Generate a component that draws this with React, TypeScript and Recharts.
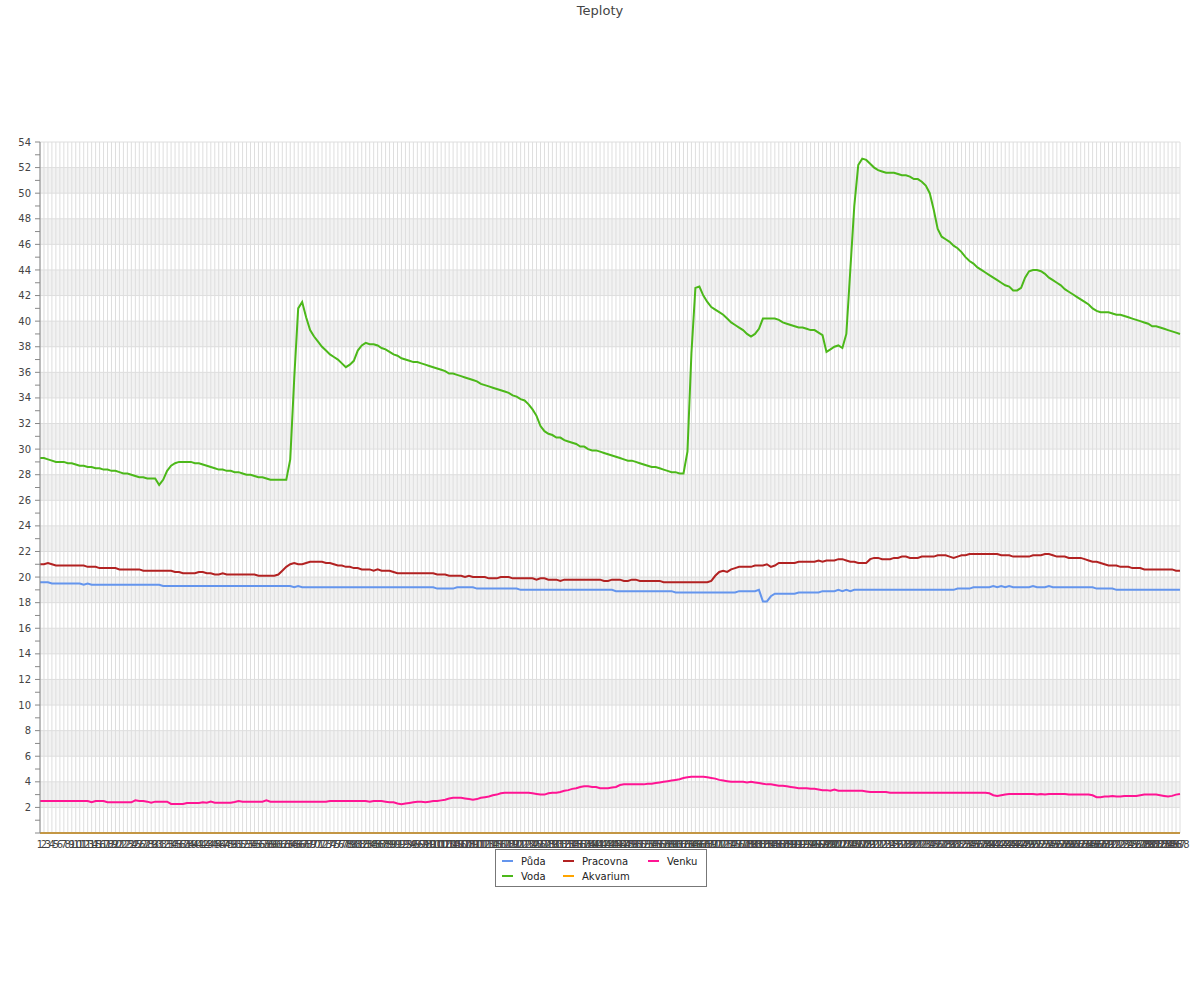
import { LineChart, Line, XAxis, YAxis, CartesianGrid } from "recharts";

// --- data (288 samples) ---
const labels: string[] = Array.from({ length: 288 }, (_, i) => String(i + 1));

const puda = [
  19.6, 19.6, 19.6, 19.5, 19.5, 19.5, 19.5, 19.5, 19.5, 19.5,
  19.5, 19.4, 19.5, 19.4, 19.4, 19.4, 19.4, 19.4, 19.4, 19.4,
  19.4, 19.4, 19.4, 19.4, 19.4, 19.4, 19.4, 19.4, 19.4, 19.4,
  19.4, 19.3, 19.3, 19.3, 19.3, 19.3, 19.3, 19.3, 19.3, 19.3,
  19.3, 19.3, 19.3, 19.3, 19.3, 19.3, 19.3, 19.3, 19.3, 19.3,
  19.3, 19.3, 19.3, 19.3, 19.3, 19.3, 19.3, 19.3, 19.3, 19.3,
  19.3, 19.3, 19.3, 19.3, 19.2, 19.3, 19.2, 19.2, 19.2, 19.2,
  19.2, 19.2, 19.2, 19.2, 19.2, 19.2, 19.2, 19.2, 19.2, 19.2,
  19.2, 19.2, 19.2, 19.2, 19.2, 19.2, 19.2, 19.2, 19.2, 19.2,
  19.2, 19.2, 19.2, 19.2, 19.2, 19.2, 19.2, 19.2, 19.2, 19.2,
  19.1, 19.1, 19.1, 19.1, 19.1, 19.2, 19.2, 19.2, 19.2, 19.2,
  19.1, 19.1, 19.1, 19.1, 19.1, 19.1, 19.1, 19.1, 19.1, 19.1,
  19.1, 19.0, 19.0, 19.0, 19.0, 19.0, 19.0, 19.0, 19.0, 19.0,
  19.0, 19.0, 19.0, 19.0, 19.0, 19.0, 19.0, 19.0, 19.0, 19.0,
  19.0, 19.0, 19.0, 19.0, 19.0, 18.9, 18.9, 18.9, 18.9, 18.9,
  18.9, 18.9, 18.9, 18.9, 18.9, 18.9, 18.9, 18.9, 18.9, 18.9,
  18.8, 18.8, 18.8, 18.8, 18.8, 18.8, 18.8, 18.8, 18.8, 18.8,
  18.8, 18.8, 18.8, 18.8, 18.8, 18.8, 18.9, 18.9, 18.9, 18.9,
  18.9, 19.0, 18.1, 18.1, 18.5, 18.7, 18.7, 18.7, 18.7, 18.7,
  18.7, 18.8, 18.8, 18.8, 18.8, 18.8, 18.8, 18.9, 18.9, 18.9,
  18.9, 19.0, 18.9, 19.0, 18.9, 19.0, 19.0, 19.0, 19.0, 19.0,
  19.0, 19.0, 19.0, 19.0, 19.0, 19.0, 19.0, 19.0, 19.0, 19.0,
  19.0, 19.0, 19.0, 19.0, 19.0, 19.0, 19.0, 19.0, 19.0, 19.0,
  19.0, 19.1, 19.1, 19.1, 19.1, 19.2, 19.2, 19.2, 19.2, 19.2,
  19.3, 19.2, 19.3, 19.2, 19.3, 19.2, 19.2, 19.2, 19.2, 19.2,
  19.3, 19.2, 19.2, 19.2, 19.3, 19.2, 19.2, 19.2, 19.2, 19.2,
  19.2, 19.2, 19.2, 19.2, 19.2, 19.2, 19.1, 19.1, 19.1, 19.1,
  19.1, 19.0, 19.0, 19.0, 19.0, 19.0, 19.0, 19.0, 19.0, 19.0,
  19.0, 19.0, 19.0, 19.0, 19.0, 19.0, 19.0, 19.0,
];

const voda = [
  29.3, 29.3, 29.2, 29.1, 29.0, 29.0, 29.0, 28.9, 28.9, 28.8,
  28.7, 28.7, 28.6, 28.6, 28.5, 28.5, 28.4, 28.4, 28.3, 28.3,
  28.2, 28.1, 28.1, 28.0, 27.9, 27.8, 27.8, 27.7, 27.7, 27.7,
  27.2, 27.6, 28.3, 28.7, 28.9, 29.0, 29.0, 29.0, 29.0, 28.9,
  28.9, 28.8, 28.7, 28.6, 28.5, 28.4, 28.4, 28.3, 28.3, 28.2,
  28.2, 28.1, 28.0, 28.0, 27.9, 27.8, 27.8, 27.7, 27.6, 27.6,
  27.6, 27.6, 27.6, 29.2, 35.5, 41.0, 41.5, 40.3, 39.3, 38.8,
  38.4, 38.0, 37.7, 37.4, 37.2, 37.0, 36.7, 36.4, 36.6, 36.9,
  37.7, 38.1, 38.3, 38.2, 38.2, 38.1, 37.9, 37.8, 37.6, 37.4,
  37.3, 37.1, 37.0, 36.9, 36.8, 36.8, 36.7, 36.6, 36.5, 36.4,
  36.3, 36.2, 36.1, 35.9, 35.9, 35.8, 35.7, 35.6, 35.5, 35.4,
  35.3, 35.1, 35.0, 34.9, 34.8, 34.7, 34.6, 34.5, 34.4, 34.2,
  34.1, 33.9, 33.8, 33.5, 33.1, 32.6, 31.8, 31.4, 31.2, 31.1,
  30.9, 30.9, 30.7, 30.6, 30.5, 30.4, 30.2, 30.2, 30.0, 29.9,
  29.9, 29.8, 29.7, 29.6, 29.5, 29.4, 29.3, 29.2, 29.1, 29.1,
  29.0, 28.9, 28.8, 28.7, 28.6, 28.6, 28.5, 28.4, 28.3, 28.2,
  28.2, 28.1, 28.1, 29.8, 37.5, 42.6, 42.7, 42.0, 41.5, 41.1,
  40.9, 40.7, 40.5, 40.2, 39.9, 39.7, 39.5, 39.3, 39.0, 38.8,
  39.0, 39.4, 40.2, 40.2, 40.2, 40.2, 40.1, 39.9, 39.8, 39.7,
  39.6, 39.5, 39.5, 39.4, 39.3, 39.3, 39.1, 38.9, 37.6, 37.8,
  38.0, 38.1, 37.9, 39.0, 44.0, 49.0, 52.2, 52.7, 52.6, 52.3,
  52.0, 51.8, 51.7, 51.6, 51.6, 51.6, 51.5, 51.4, 51.4, 51.3,
  51.1, 51.1, 50.9, 50.6, 50.0, 48.7, 47.2, 46.6, 46.4, 46.2,
  45.9, 45.7, 45.4, 45.0, 44.7, 44.5, 44.2, 44.0, 43.8, 43.6,
  43.4, 43.2, 43.0, 42.8, 42.7, 42.4, 42.4, 42.6, 43.4, 43.9,
  44.0, 44.0, 43.9, 43.7, 43.4, 43.2, 43.0, 42.8, 42.5, 42.3,
  42.1, 41.9, 41.7, 41.5, 41.3, 41.0, 40.8, 40.7, 40.7, 40.7,
  40.6, 40.5, 40.5, 40.4, 40.3, 40.2, 40.1, 40.0, 39.9, 39.8,
  39.6, 39.6, 39.5, 39.4, 39.3, 39.2, 39.1, 39.0,
];

const pracovna = [
  21.0, 21.0, 21.1, 21.0, 20.9, 20.9, 20.9, 20.9, 20.9, 20.9,
  20.9, 20.9, 20.8, 20.8, 20.8, 20.7, 20.7, 20.7, 20.7, 20.7,
  20.6, 20.6, 20.6, 20.6, 20.6, 20.6, 20.5, 20.5, 20.5, 20.5,
  20.5, 20.5, 20.5, 20.5, 20.4, 20.4, 20.3, 20.3, 20.3, 20.3,
  20.4, 20.4, 20.3, 20.3, 20.2, 20.2, 20.3, 20.2, 20.2, 20.2,
  20.2, 20.2, 20.2, 20.2, 20.2, 20.1, 20.1, 20.1, 20.1, 20.1,
  20.2, 20.5, 20.8, 21.0, 21.1, 21.0, 21.0, 21.1, 21.2, 21.2,
  21.2, 21.2, 21.1, 21.1, 21.0, 20.9, 20.9, 20.8, 20.8, 20.7,
  20.7, 20.6, 20.6, 20.6, 20.5, 20.6, 20.5, 20.5, 20.5, 20.4,
  20.3, 20.3, 20.3, 20.3, 20.3, 20.3, 20.3, 20.3, 20.3, 20.3,
  20.2, 20.2, 20.2, 20.1, 20.1, 20.1, 20.1, 20.0, 20.1, 20.0,
  20.0, 20.0, 20.0, 19.9, 19.9, 19.9, 20.0, 20.0, 20.0, 19.9,
  19.9, 19.9, 19.9, 19.9, 19.9, 19.8, 19.9, 19.9, 19.8, 19.8,
  19.8, 19.7, 19.8, 19.8, 19.8, 19.8, 19.8, 19.8, 19.8, 19.8,
  19.8, 19.8, 19.7, 19.7, 19.8, 19.8, 19.8, 19.7, 19.7, 19.8,
  19.8, 19.7, 19.7, 19.7, 19.7, 19.7, 19.7, 19.6, 19.6, 19.6,
  19.6, 19.6, 19.6, 19.6, 19.6, 19.6, 19.6, 19.6, 19.6, 19.7,
  20.1, 20.4, 20.5, 20.4, 20.6, 20.7, 20.8, 20.8, 20.8, 20.8,
  20.9, 20.9, 20.9, 21.0, 20.8, 20.9, 21.1, 21.1, 21.1, 21.1,
  21.1, 21.2, 21.2, 21.2, 21.2, 21.2, 21.3, 21.2, 21.3, 21.3,
  21.3, 21.4, 21.4, 21.3, 21.2, 21.2, 21.1, 21.1, 21.1, 21.4,
  21.5, 21.5, 21.4, 21.4, 21.4, 21.5, 21.5, 21.6, 21.6, 21.5,
  21.5, 21.5, 21.6, 21.6, 21.6, 21.6, 21.7, 21.7, 21.7, 21.6,
  21.5, 21.6, 21.7, 21.7, 21.8, 21.8, 21.8, 21.8, 21.8, 21.8,
  21.8, 21.8, 21.7, 21.7, 21.7, 21.6, 21.6, 21.6, 21.6, 21.6,
  21.7, 21.7, 21.7, 21.8, 21.8, 21.7, 21.6, 21.6, 21.6, 21.5,
  21.5, 21.5, 21.5, 21.4, 21.3, 21.2, 21.2, 21.1, 21.0, 20.9,
  20.9, 20.9, 20.8, 20.8, 20.8, 20.7, 20.7, 20.7, 20.6, 20.6,
  20.6, 20.6, 20.6, 20.6, 20.6, 20.6, 20.5, 20.5,
];

const akvarium = [
  0, 0, 0, 0, 0, 0, 0, 0, 0, 0, 0, 0, 0, 0, 0, 0, 0, 0, 0, 0,
  0, 0, 0, 0, 0, 0, 0, 0, 0, 0, 0, 0, 0, 0, 0, 0, 0, 0, 0, 0,
  0, 0, 0, 0, 0, 0, 0, 0, 0, 0, 0, 0, 0, 0, 0, 0, 0, 0, 0, 0,
  0, 0, 0, 0, 0, 0, 0, 0, 0, 0, 0, 0, 0, 0, 0, 0, 0, 0, 0, 0,
  0, 0, 0, 0, 0, 0, 0, 0, 0, 0, 0, 0, 0, 0, 0, 0, 0, 0, 0, 0,
  0, 0, 0, 0, 0, 0, 0, 0, 0, 0, 0, 0, 0, 0, 0, 0, 0, 0, 0, 0,
  0, 0, 0, 0, 0, 0, 0, 0, 0, 0, 0, 0, 0, 0, 0, 0, 0, 0, 0, 0,
  0, 0, 0, 0, 0, 0, 0, 0, 0, 0, 0, 0, 0, 0, 0, 0, 0, 0, 0, 0,
  0, 0, 0, 0, 0, 0, 0, 0, 0, 0, 0, 0, 0, 0, 0, 0, 0, 0, 0, 0,
  0, 0, 0, 0, 0, 0, 0, 0, 0, 0, 0, 0, 0, 0, 0, 0, 0, 0, 0, 0,
  0, 0, 0, 0, 0, 0, 0, 0, 0, 0, 0, 0, 0, 0, 0, 0, 0, 0, 0, 0,
  0, 0, 0, 0, 0, 0, 0, 0, 0, 0, 0, 0, 0, 0, 0, 0, 0, 0, 0, 0,
  0, 0, 0, 0, 0, 0, 0, 0, 0, 0, 0, 0, 0, 0, 0, 0, 0, 0, 0, 0,
  0, 0, 0, 0, 0, 0, 0, 0, 0, 0, 0, 0, 0, 0, 0, 0, 0, 0, 0, 0,
  0, 0, 0, 0, 0, 0, 0, 0,
];

const venku = [
  2.5, 2.5, 2.5, 2.5, 2.5, 2.5, 2.5, 2.5, 2.5, 2.5,
  2.5, 2.5, 2.5, 2.4, 2.5, 2.5, 2.5, 2.4, 2.4, 2.4,
  2.4, 2.4, 2.4, 2.4, 2.55, 2.5, 2.5, 2.45, 2.37, 2.45,
  2.45, 2.45, 2.45, 2.27, 2.27, 2.27, 2.27, 2.35, 2.35, 2.35,
  2.35, 2.4, 2.37, 2.45, 2.37, 2.37, 2.37, 2.37, 2.37, 2.43,
  2.5, 2.45, 2.45, 2.45, 2.45, 2.45, 2.45, 2.55, 2.45, 2.45,
  2.45, 2.45, 2.45, 2.45, 2.45, 2.45, 2.45, 2.45, 2.45, 2.45,
  2.45, 2.45, 2.45, 2.5, 2.5, 2.5, 2.5, 2.5, 2.5, 2.5,
  2.5, 2.5, 2.5, 2.45, 2.5, 2.5, 2.5, 2.45, 2.4, 2.4,
  2.3, 2.25, 2.3, 2.35, 2.4, 2.45, 2.45, 2.4, 2.45, 2.5,
  2.5, 2.55, 2.6, 2.7, 2.75, 2.75, 2.75, 2.7, 2.65, 2.6,
  2.65, 2.75, 2.8, 2.85, 2.95, 3.0, 3.1, 3.15, 3.15, 3.15,
  3.15, 3.15, 3.15, 3.15, 3.1, 3.05, 3.0, 3.0, 3.1, 3.15,
  3.15, 3.2, 3.3, 3.35, 3.45, 3.5, 3.6, 3.65, 3.65, 3.6,
  3.6, 3.5, 3.5, 3.5, 3.55, 3.6, 3.75, 3.8, 3.8, 3.8,
  3.8, 3.8, 3.8, 3.85, 3.85, 3.9, 3.95, 4.0, 4.05, 4.1,
  4.15, 4.2, 4.3, 4.35, 4.4, 4.4, 4.4, 4.4, 4.35, 4.3,
  4.25, 4.15, 4.1, 4.05, 4.0, 4.0, 4.0, 4.0, 3.95, 4.0,
  3.95, 3.9, 3.85, 3.8, 3.8, 3.75, 3.7, 3.7, 3.65, 3.6,
  3.55, 3.5, 3.5, 3.5, 3.45, 3.45, 3.4, 3.35, 3.35, 3.3,
  3.4, 3.3, 3.3, 3.3, 3.3, 3.3, 3.3, 3.3, 3.25, 3.2,
  3.2, 3.2, 3.2, 3.2, 3.15, 3.15, 3.15, 3.15, 3.15, 3.15,
  3.15, 3.15, 3.15, 3.15, 3.15, 3.15, 3.15, 3.15, 3.15, 3.15,
  3.15, 3.15, 3.15, 3.15, 3.15, 3.15, 3.15, 3.15, 3.15, 3.1,
  2.95, 2.9, 2.95, 3.0, 3.05, 3.05, 3.05, 3.05, 3.05, 3.05,
  3.05, 3.0, 3.05, 3.0, 3.05, 3.05, 3.05, 3.05, 3.05, 3.0,
  3.0, 3.0, 3.0, 3.0, 3.0, 2.95, 2.8, 2.8, 2.85, 2.85,
  2.9, 2.85, 2.85, 2.9, 2.9, 2.9, 2.9, 2.95, 3.0, 3.0,
  3.0, 3.0, 2.95, 2.9, 2.85, 2.9, 3.0, 3.05,
];

const yTicks = [
  0, 1, 2, 3, 4, 5, 6, 7, 8, 9, 10, 11, 12, 13, 14, 15, 16, 17, 18, 19,
  20, 21, 22, 23, 24, 25, 26, 27, 28, 29, 30, 31, 32, 33, 34, 35, 36, 37,
  38, 39, 40, 41, 42, 43, 44, 45, 46, 47, 48, 49, 50, 51, 52, 53, 54,
];
const gridValues = [
  0, 2, 4, 6, 8, 10, 12, 14, 16, 18, 20, 22, 24, 26, 28, 30, 32, 34, 36,
  38, 40, 42, 44, 46, 48, 50, 52, 54,
];

const series = [
  { key: "puda", name: "Půda", color: "#6495ED" },
  { key: "voda", name: "Voda", color: "#4CB81A" },
  { key: "pracovna", name: "Pracovna", color: "#B22222" },
  { key: "venku", name: "Venku", color: "#FF1493" },
  { key: "akvarium", name: "Akvarium", color: "#FFA500" },
];

const data = labels.map((name, i) => ({
  name,
  puda: puda[i],
  voda: voda[i],
  pracovna: pracovna[i],
  akvarium: akvarium[i],
  venku: venku[i],
}));

const font = "'DejaVu Sans', sans-serif";

// legend layout like the original: 3 columns, 2 rows
const legendSlots: Record<string, { left: number; row: number }> = {
  puda: { left: 6, row: 0 },
  pracovna: { left: 67, row: 0 },
  venku: { left: 152, row: 0 },
  voda: { left: 6, row: 1 },
  akvarium: { left: 67, row: 1 },
};

function LegendBox() {
  return (
    <div
      style={{
        position: "absolute",
        left: 495,
        top: 849,
        width: 210,
        height: 36,
        border: "1px solid #777",
        background: "#fff",
        fontFamily: font,
        fontSize: 10,
        color: "#222",
      }}
    >
      {series.map((s) => {
        const slot = legendSlots[s.key];
        const top = slot.row === 0 ? 4 : 19;
        return (
          <div
            key={s.key}
            style={{ position: "absolute", left: slot.left, top, height: 14, display: "flex", alignItems: "center" }}
          >
            <span style={{ display: "inline-block", width: 11, height: 2, background: s.color, marginRight: 8 }} />
            <span>{s.name}</span>
          </div>
        );
      })}
    </div>
  );
}

export default function App() {
  return (
    <div style={{ position: "absolute", left: 0, top: 0, width: 1200, height: 1000, background: "#fff" }}>
      <div
        style={{
          position: "absolute",
          top: 3,
          left: 0,
          width: 1200,
          textAlign: "center",
          fontFamily: font,
          fontSize: 13,
          color: "#444",
        }}
      >
        Teploty
      </div>
      <LineChart
        width={1200}
        height={1000}
        data={data}
        margin={{ top: 142, right: 20, bottom: 137, left: 0 }}
        style={{ fontFamily: font }}
      >
        <CartesianGrid
          stroke="#dedede"
          horizontalValues={gridValues}
          horizontalFill={["#ffffff", "#f2f2f2"]}
          fillOpacity={1}
        />
        <XAxis
          dataKey="name"
          interval={0}
          height={30}
          tickLine={false}
          axisLine={{ stroke: "#888" }}
          tick={{ fontSize: 10, fill: "#444" }}
        />
        <YAxis
          width={40}
          domain={[0, 54]}
          ticks={yTicks}
          interval={0}
          tickSize={5}
          tickMargin={4}
          axisLine={{ stroke: "#888" }}
          tickLine={{ stroke: "#888" }}
          tick={{ fontSize: 10, fill: "#444" }}
          tickFormatter={(v: number) => (v % 2 === 0 && v !== 0 ? String(v) : "")}
        />
        {series.map((s) => (
          <Line
            key={s.key}
            type="linear"
            dataKey={s.key}
            name={s.name}
            stroke={s.color}
            strokeWidth={2}
            dot={false}
            activeDot={false}
            isAnimationActive={false}
          />
        ))}
      </LineChart>
      <LegendBox />
    </div>
  );
}
